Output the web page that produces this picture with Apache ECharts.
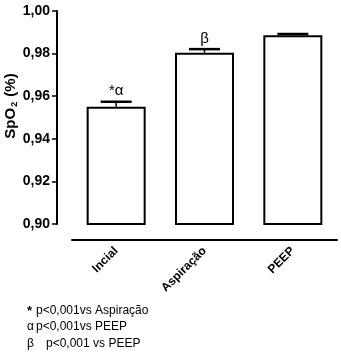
<!DOCTYPE html>
<html>
<head>
<meta charset="utf-8">
<script src="https://cdn.jsdelivr.net/npm/echarts@6/dist/echarts.min.js"></script>
<style>html,body{margin:0;padding:0;background:#fff;}#c{width:341px;height:354px;}</style>
</head>
<body>
<div id="c"></div>
<script>
var categories = ['Incial', 'Aspiração', 'PEEP'];
var means = [0.9551, 0.9804, 0.9886];
var errors = [0.0023, 0.0017, 0.0006];
var marks = ['*α', 'β', ''];
var yTicks = [0.90, 0.92, 0.94, 0.96, 0.98, 1.00];
var footSymbols = ['*', 'α', 'β'];
var footTexts = ['p<0,001vs Aspiração', 'p<0,001vs PEEP', 'p<0,001 vs PEEP'];

var chart = echarts.init(document.getElementById('c'), null, {renderer: 'canvas'});
var font = '"Liberation Sans", Arial, sans-serif';

var errData = means.map(function (m, i) { return [i, m, m + errors[i], marks[i]]; });

var footGraphics = [];
var footY = [311, 327, 344];
var footTextX = [36, 36, 46];
for (var i = 0; i < footTexts.length; i++) {
  footGraphics.push({type: 'text', x: 27, y: footY[i], style: {text: footSymbols[i], textVerticalAlign: 'middle', fill: '#000', font: (i === 0 ? 'bold 13px ' : '12px ') + font}});
  footGraphics.push({type: 'text', x: footTextX[i], y: footY[i], style: {text: footTexts[i], textVerticalAlign: 'middle', fill: '#000', font: '12px ' + font}});
}

chart.setOption({
  animation: false,
  backgroundColor: '#fff',
  grid: {left: 72, right: 4, top: 11, bottom: 130},
  xAxis: {
    type: 'category',
    data: categories,
    offset: 16,
    axisLine: {lineStyle: {color: '#000', width: 2}},
    axisTick: {alignWithLabel: true, length: 4, lineStyle: {color: '#000', width: 1.5}},
    axisLabel: {rotate: 45, color: '#000', fontWeight: 'bold', fontSize: 12, fontFamily: font, margin: 9}
  },
  yAxis: {
    type: 'value',
    min: 0.90, max: 1.00, interval: 0.02,
    offset: 15,
    splitLine: {show: false},
    axisLine: {show: true, lineStyle: {color: '#000', width: 2}},
    axisTick: {show: true, length: 5, lineStyle: {color: '#000', width: 1.5}},
    axisLabel: {
      color: '#000', fontWeight: 'bold', fontSize: 14, fontFamily: font, margin: 7,
      formatter: function (v) {
        for (var k = 0; k < yTicks.length; k++) {
          if (Math.abs(v - yTicks[k]) < 1e-9) return yTicks[k].toFixed(2).replace('.', ',');
        }
        return '';
      }
    }
  },
  series: [
    {
      type: 'bar',
      data: means,
      barWidth: 59,
      itemStyle: {color: '#fff', borderColor: '#000', borderWidth: 2}
    },
    {
      type: 'custom',
      data: errData,
      z: 5,
      renderItem: function (params, api) {
        var x = api.value(0);
        var base = api.coord([x, api.value(1)]);
        var top = api.coord([x, api.value(2)]);
        var half = 15.5;
        return {
          type: 'group',
          children: [
            {type: 'line', shape: {x1: base[0], y1: base[1], x2: top[0], y2: top[1]}, style: {stroke: '#000', lineWidth: 1.5}},
            {type: 'line', shape: {x1: top[0] - half, y1: top[1], x2: top[0] + half, y2: top[1]}, style: {stroke: '#000', lineWidth: 2.5}},
            {type: 'text', style: {text: api.value(3), x: top[0], y: top[1] - 3, textAlign: 'center', textVerticalAlign: 'bottom', fill: '#000', font: '15px ' + font}}
          ]
        };
      }
    }
  ],
  graphic: [
    {
      type: 'text',
      x: 11, y: 106,
      rotation: Math.PI / 2,
      style: {
        text: '{a|SpO}{s|2}{a| (%)}',
        textAlign: 'center', textVerticalAlign: 'middle',
        rich: {
          a: {fontSize: 15, fontWeight: 'bold', fontFamily: font, fill: '#000'},
          s: {fontSize: 9, fontWeight: 'bold', fontFamily: font, fill: '#000', padding: [7, 1, 0, 1]}
        }
      }
    }
  ].concat(footGraphics)
});
</script>
</body>
</html>
